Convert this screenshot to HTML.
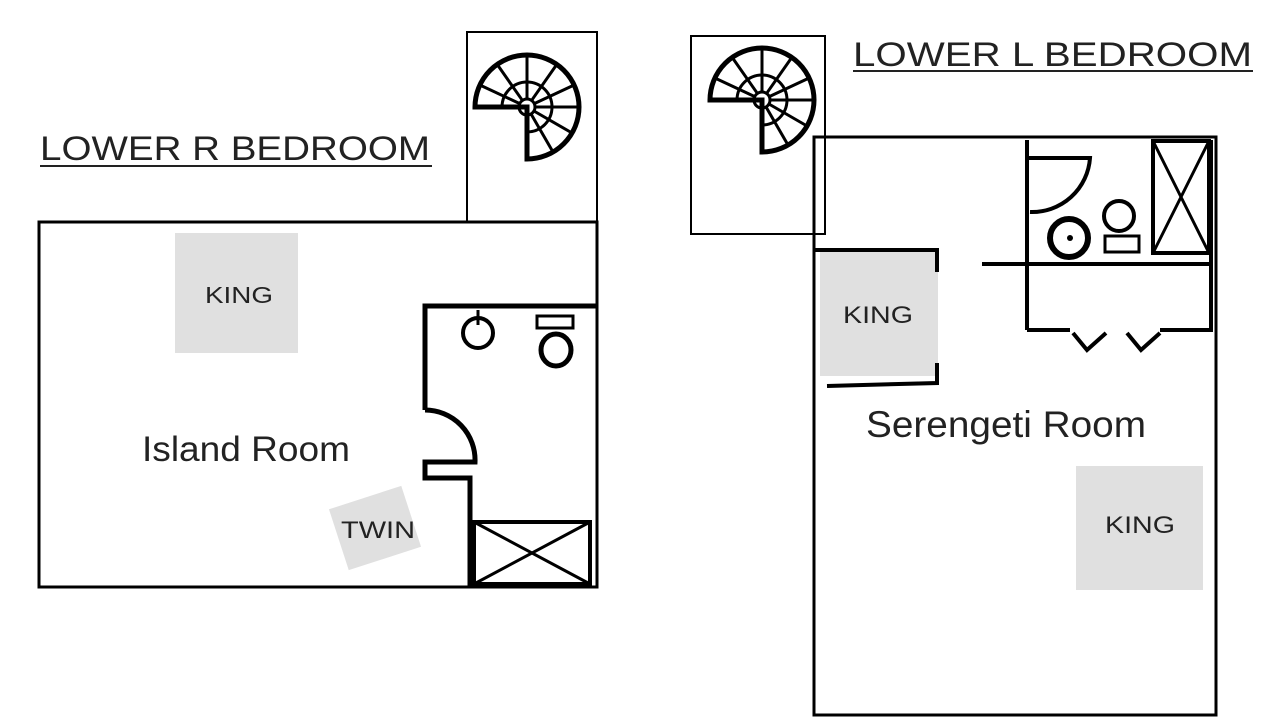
<!DOCTYPE html>
<html><head><meta charset="utf-8"><style>
body{margin:0;background:#fff;}
svg{display:block}
text{font-family:"Liberation Sans",sans-serif;fill:#222}
</style></head><body>
<svg width="1280" height="720" viewBox="0 0 1280 720" xmlns="http://www.w3.org/2000/svg">
<defs>
<g id="spiral" fill="none" stroke="#000" stroke-width="4">
  <path d="M-52,0 A52,52 0 1 1 0,52 L0,0 Z" stroke-width="5"/>
  <circle r="8" stroke-width="3"/>
  <path d="M-25,0 A25,25 0 1 1 0,25" stroke-width="3"/>
  <g stroke-width="3">
    <line x1="-8" y1="0" x2="-52" y2="0" transform="rotate(25)"/>
    <line x1="-8" y1="0" x2="-52" y2="0" transform="rotate(55)"/>
    <line x1="-8" y1="0" x2="-52" y2="0" transform="rotate(90)"/>
    <line x1="-8" y1="0" x2="-52" y2="0" transform="rotate(125)"/>
    <line x1="-8" y1="0" x2="-52" y2="0" transform="rotate(155)"/>
    <line x1="-8" y1="0" x2="-52" y2="0" transform="rotate(180)"/>
    <line x1="-8" y1="0" x2="-52" y2="0" transform="rotate(210)"/>
    <line x1="-8" y1="0" x2="-52" y2="0" transform="rotate(240)"/>
  </g>
</g>
</defs>

<!-- LEFT -->
<text x="40" y="160" font-size="34" textLength="390" lengthAdjust="spacingAndGlyphs">LOWER R BEDROOM</text>
<line x1="40" y1="166" x2="432" y2="166" stroke="#222" stroke-width="2"/>
<rect x="467" y="32" width="130" height="190" fill="none" stroke="#000" stroke-width="2"/>
<use href="#spiral" x="527" y="107"/>
<rect x="39" y="222" width="558" height="365" fill="none" stroke="#000" stroke-width="3"/>
<rect x="175" y="233" width="123" height="120" fill="#e0e0e0"/>
<text x="205" y="303" font-size="23" textLength="68" lengthAdjust="spacingAndGlyphs">KING</text>
<text x="142" y="461" font-size="35" textLength="208" lengthAdjust="spacingAndGlyphs">Island Room</text>
<g transform="translate(375,528) rotate(-18)">
<rect x="-38" y="-32" width="76" height="64" fill="#e0e0e0"/>
</g>
<text x="341" y="538" font-size="24" textLength="74" lengthAdjust="spacingAndGlyphs">TWIN</text>
<!-- left bathroom -->
<g fill="none" stroke="#000" stroke-width="5">
<path d="M597,306 L425,306 L425,410"/>
<path d="M425,410 A50,50 0 0 1 475,462 L425,462 L425,478 L470,478 L470,587"/>
</g>
<rect x="474" y="522" width="116" height="62" fill="none" stroke="#000" stroke-width="4"/>
<path d="M474,522 L590,584 M590,522 L474,584" stroke="#000" stroke-width="3"/>
<circle cx="478" cy="333" r="15" fill="none" stroke="#000" stroke-width="4"/>
<line x1="478" y1="310" x2="478" y2="325" stroke="#000" stroke-width="3"/>
<rect x="537" y="316" width="36" height="12" fill="none" stroke="#000" stroke-width="3"/>
<ellipse cx="556" cy="350" rx="15" ry="16" fill="none" stroke="#000" stroke-width="5"/>

<!-- RIGHT -->
<text x="853" y="66" font-size="34" textLength="399" lengthAdjust="spacingAndGlyphs">LOWER L BEDROOM</text>
<line x1="853" y1="71" x2="1253" y2="71" stroke="#222" stroke-width="2"/>
<rect x="691" y="36" width="134" height="198" fill="none" stroke="#000" stroke-width="2"/>
<use href="#spiral" x="762" y="100"/>
<rect x="814" y="137" width="402" height="578" fill="none" stroke="#000" stroke-width="3"/>
<rect x="820" y="252" width="118" height="124" fill="#e0e0e0"/>
<path d="M815,250 L937,250 L937,272 M937,363 L937,383 L827,386" fill="none" stroke="#000" stroke-width="4"/>
<text x="843" y="323" font-size="24" textLength="70" lengthAdjust="spacingAndGlyphs">KING</text>
<text x="866" y="437" font-size="37" textLength="280" lengthAdjust="spacingAndGlyphs">Serengeti Room</text>
<rect x="1076" y="466" width="127" height="124" fill="#e0e0e0"/>
<text x="1105" y="533" font-size="24" textLength="70" lengthAdjust="spacingAndGlyphs">KING</text>
<!-- right bathroom -->
<g fill="none" stroke="#000" stroke-width="4">
<line x1="1027" y1="140" x2="1027" y2="330"/>
<line x1="982" y1="264" x2="1210" y2="264"/>
<line x1="1211" y1="140" x2="1211" y2="332"/>
<path d="M1027,330 L1070,330 M1160,330 L1210,330"/>
<path d="M1073,333 L1087,350 L1106,333 M1127,333 L1141,350 L1160,333"/>
<path d="M1027,158 L1090,158 A58,58 0 0 1 1030,212"/>
<rect x="1153" y="141" width="56" height="112"/>
<path d="M1153,141 L1209,253 M1209,141 L1153,253" stroke-width="3"/>
<circle cx="1069" cy="238" r="19" stroke-width="6"/>
<circle cx="1119" cy="216" r="15" stroke-width="4"/>
<rect x="1105" y="236" width="34" height="16" stroke-width="3"/>
</g>
<circle cx="1070" cy="238" r="3" fill="#000"/>
</svg>
</body></html>
